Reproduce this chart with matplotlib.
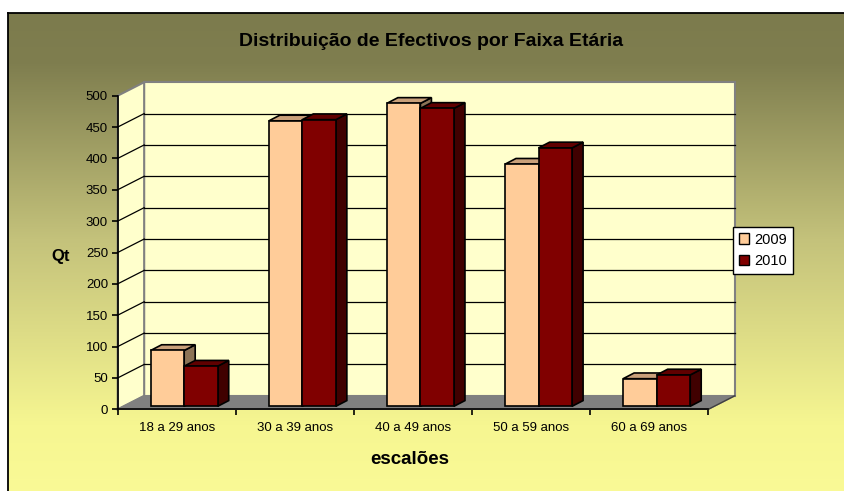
import numpy as np
import matplotlib
matplotlib.use("Agg")
import matplotlib.pyplot as plt
from matplotlib.patches import Polygon, Patch
from matplotlib.colors import LinearSegmentedColormap

plt.rcParams['font.family'] = ['Liberation Sans', 'DejaVu Sans']

categories = ['18 a 29 anos', '30 a 39 anos', '40 a 49 anos', '50 a 59 anos', '60 a 69 anos']
series_names = ['2009', '2010']
values_2009 = [89, 455, 483, 386, 44]
values_2010 = [64, 457, 475, 412, 50]
yticks = list(range(0, 501, 50))

title = 'Distribuição de Efectivos por Faixa Etária'
ylabel = 'Qt'
xlabel = 'escalões'

W, H = 844, 491
fig = plt.figure(figsize=(W / 100, H / 100), dpi=100)
fig.patch.set_facecolor('white')
fig.patch.set_linewidth(0)

# background gradient (chart area)
bg = fig.add_axes([8 / W, -0.05, 1.2, 1 - 13 / H + 0.05])
cmap = LinearSegmentedColormap.from_list(
    'bg', [(0.0, '#7c7b4d'), (0.10, '#7f7e4f'), (0.45, '#c4c27b'),
           (0.82, '#f6f691'), (1.0, '#fbfb98')])
grad = np.linspace(0, 1, 256).reshape(-1, 1)
bg.imshow(grad, aspect='auto', cmap=cmap, extent=[0, 1, 0, 1], origin='upper')
bg.set_xlim(0, 1)
bg.set_ylim(0, 1)
bg.set_xticks([])
bg.set_yticks([])
for s in ['right', 'bottom']:
    bg.spines[s].set_visible(False)
for s in ['left', 'top']:
    bg.spines[s].set_color('black')
    bg.spines[s].set_linewidth(1.3)

# main axes = front plane of the 3D box
ax = fig.add_axes([117.7 / W, 1 - 409.3 / H, 590.6 / W, 313.6 / H])
ax.set_xlim(0, len(categories))
ax.set_ylim(0, 500)
ax.patch.set_visible(False)

DX, DY = 0.224, 21.5          # depth of the floor / walls
BDX, BDY = 0.093, 9.1         # depth of each bar
BW = 0.284                    # bar width
X0 = 0.279                    # first bar offset within a category
BASE = 4.8                    # bars sit slightly behind the front edge
n = len(categories)
top = 500

wall_c = '#ffffcc'
edge_c = '#808080'

# back wall
ax.add_patch(Polygon([(DX, DY), (n + DX, DY), (n + DX, top + DY), (DX, top + DY)],
                     closed=True, facecolor=wall_c, edgecolor=edge_c, lw=1.5,
                     clip_on=False, zorder=1))
# left wall
ax.add_patch(Polygon([(0, 0), (DX, DY), (DX, top + DY), (0, top)],
                     closed=True, facecolor=wall_c, edgecolor=edge_c, lw=1.5,
                     clip_on=False, zorder=1))
# gridlines
for v in yticks[1:-1]:
    ax.plot([DX, n + DX], [v + DY, v + DY], color='black', lw=0.9,
            clip_on=False, zorder=2)
    ax.plot([0, DX], [v, v + DY], color='black', lw=0.9,
            clip_on=False, zorder=2)
# floor
ax.add_patch(Polygon([(0, 0), (n, 0), (n + DX, DY), (DX, DY)],
                     closed=True, facecolor='#808080', edgecolor='#808080', lw=1,
                     clip_on=False, zorder=3))
ax.plot([n, n + DX], [0, DY], color='#404040', lw=1, clip_on=False, zorder=3)

colors = {
    '2009': ('#ffcc99', '#c9a07a', '#8c7356'),
    '2010': ('#800000', '#600000', '#400000'),
}


def draw_bar(x0, v, cols):
    front, topc, side = cols
    b = BASE
    kw = dict(closed=True, edgecolor='black', lw=1.2, clip_on=False, zorder=5,
              joinstyle='miter')
    ax.add_patch(Polygon([(x0 + BW, b), (x0 + BW + BDX, b + BDY),
                          (x0 + BW + BDX, b + v + BDY), (x0 + BW, b + v)],
                         facecolor=side, **kw))
    ax.add_patch(Polygon([(x0, b + v), (x0 + BW, b + v),
                          (x0 + BW + BDX, b + v + BDY), (x0 + BDX, b + v + BDY)],
                         facecolor=topc, **kw))
    ax.add_patch(Polygon([(x0, b), (x0 + BW, b), (x0 + BW, b + v), (x0, b + v)],
                         facecolor=front, **kw))


for i in range(n):
    draw_bar(i + X0, values_2009[i], colors['2009'])
    draw_bar(i + X0 + BW, values_2010[i], colors['2010'])

# axes, ticks
for s in ['top', 'right']:
    ax.spines[s].set_visible(False)
ax.spines['left'].set_bounds(0, 500)
ax.spines['bottom'].set_bounds(0, n)
for s in ['left', 'bottom']:
    ax.spines[s].set_color('black')
    ax.spines[s].set_linewidth(1.2)
    ax.spines[s].set_zorder(6)

ax.set_yticks(yticks)
ax.set_yticklabels([str(t) for t in yticks])
ax.set_xticks(range(n + 1))
ax.set_xticklabels([])
ax.set_xticks([i + 0.5 for i in range(n)], minor=True)
ax.set_xticklabels(categories, minor=True)
ax.tick_params(axis='y', direction='out', length=4, width=1.2, pad=3,
               labelsize=9.5, colors='black')
ax.tick_params(axis='x', which='major', direction='out', length=4, width=1.2)
ax.tick_params(axis='x', which='minor', length=0, pad=9, labelsize=9.5)

# legend
handles = [Patch(facecolor=colors[s][0], edgecolor='black', lw=1) for s in series_names]
leg = fig.legend(handles, series_names, loc='upper left',
                 bbox_to_anchor=(732.7 / W, 1 - 226.7 / H), fontsize=10.5,
                 frameon=True, fancybox=False, edgecolor='black', framealpha=1,
                 facecolor='white',
                 handlelength=0.7, handleheight=0.7, handletextpad=0.4,
                 labelspacing=0.5, borderpad=0.4, borderaxespad=0)
leg.get_frame().set_linewidth(1)

# texts
fig.text(431 / W, 1 - 42 / H, title, ha='center', va='center',
         fontsize=14, fontweight='bold')
fig.text(61 / W, 1 - 257 / H, ylabel, ha='center', va='center',
         fontsize=12, fontweight='bold')
fig.text(410 / W, 1 - 460 / H, xlabel, ha='center', va='center',
         fontsize=13.5, fontweight='bold')

fig.savefig('out.png', dpi=100)
